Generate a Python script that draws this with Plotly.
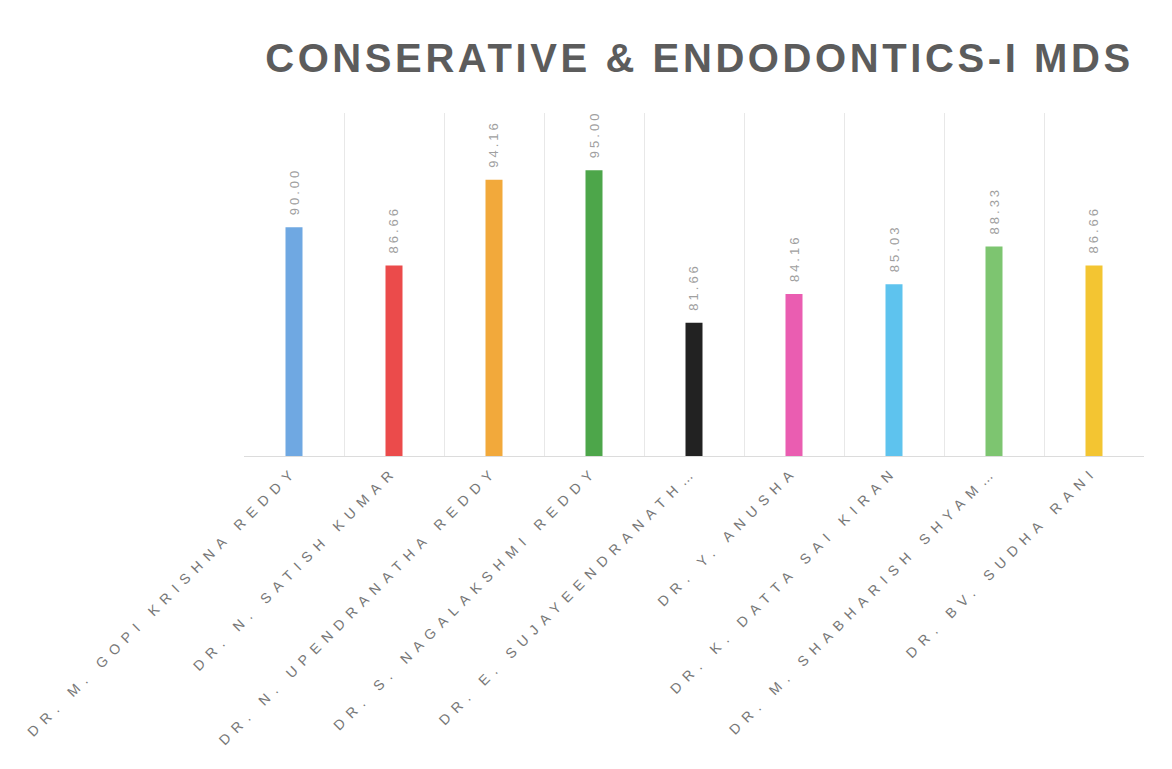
import plotly.graph_objects as go

names = [
    "DR. M. GOPI KRISHNA REDDY",
    "DR. N. SATISH KUMAR",
    "DR. N. UPENDRANATHA REDDY",
    "DR. S. NAGALAKSHMI REDDY",
    "DR. E. SUJAYEENDRANATH…",
    "DR. Y. ANUSHA",
    "DR. K. DATTA SAI KIRAN",
    "DR. M. SHABHARISH SHYAM…",
    "DR. BV. SUDHA RANI",
]
scores = [90.00, 86.66, 94.16, 95.00, 81.66, 84.16, 85.03, 88.33, 86.66]
colors = ["#6FA8E2", "#EB4B4B", "#F2A93B", "#4DA64A", "#222222",
          "#EA5DB1", "#5EC3EE", "#7DC570", "#F3C532"]
title_text = "CONSERATIVE &amp; ENDODONTICS-I MDS"

fig = go.Figure(go.Bar(
    x=names, y=scores,
    marker=dict(color=colors, line=dict(width=0)),
    width=0.17,
    hoverinfo="x+y",
))

for n, v in zip(names, scores):
    fig.add_annotation(
        x=n, y=v, xref="x", yref="y",
        text=f"<span style='letter-spacing:3px'>{v:.2f}</span>",
        textangle=-90, showarrow=False,
        xanchor="center", yanchor="bottom", yshift=10,
        font=dict(family="Liberation Sans, Arial", size=13, color="#a0a0a0"),
    )

fig.update_layout(
    width=1172, height=769,
    margin=dict(l=236, r=36, t=105, b=321),
    paper_bgcolor="white", plot_bgcolor="white",
    title=dict(text=f"<b><span style='letter-spacing:3.6px'>{title_text}</span></b>",
               x=0.590, xanchor="center", y=0.935, yanchor="middle",
               font=dict(family="Liberation Sans, Arial", size=40, color="#5c5c5c")),
    showlegend=False,
)
fig.update_xaxes(
    type="category", tickson="boundaries", showgrid=True, gridcolor="#e8e8e8",
    gridwidth=1, ticks="", tickangle=-45, showline=True, linecolor="#dcdcdc",
    automargin=False,
    tickvals=names,
    ticktext=[f"<span style='letter-spacing:7px'>{n}</span>" for n in names],
    tickfont=dict(family="Liberation Sans, Arial", size=14, color="#777777"),
)
fig.update_yaxes(range=[70, 100], showgrid=False, showticklabels=False,
                 zeroline=False, showline=False, automargin=False)

fig.write_html("out.html")
